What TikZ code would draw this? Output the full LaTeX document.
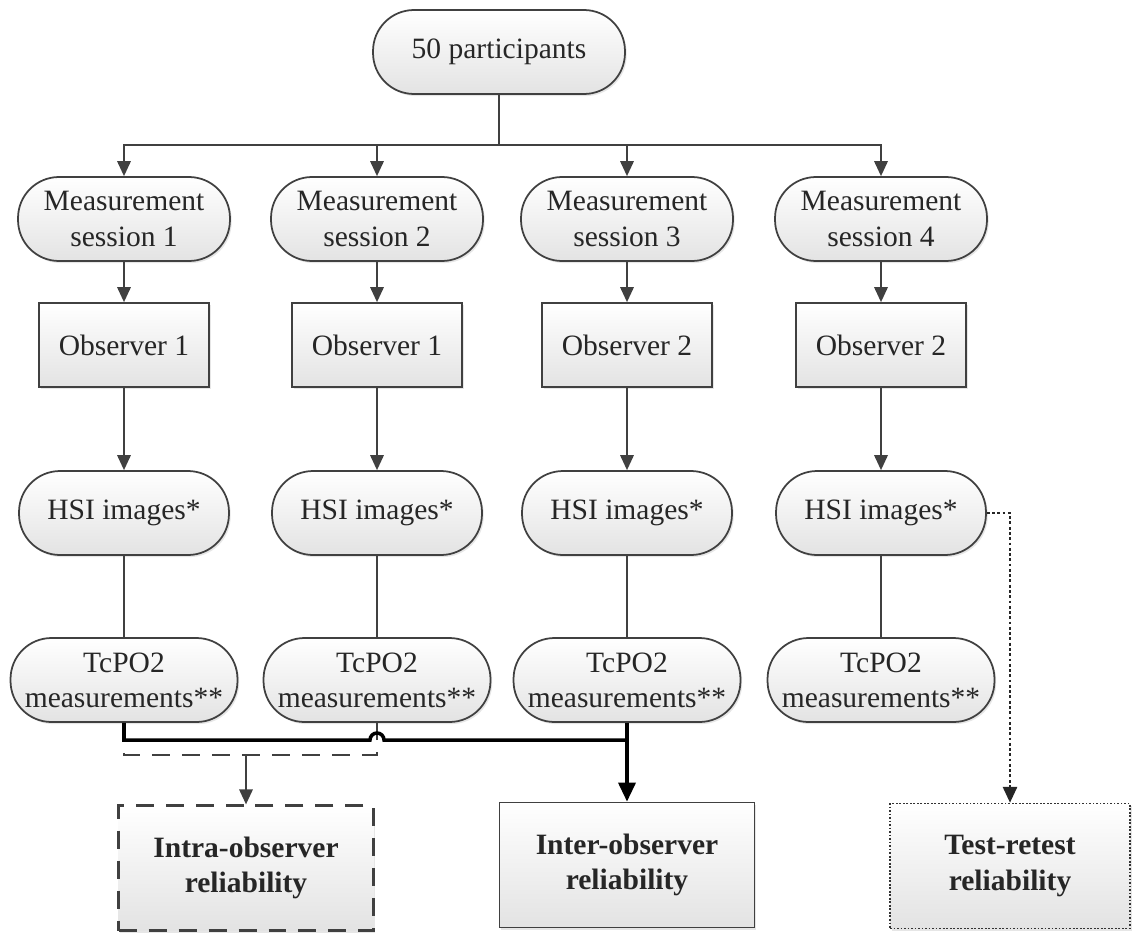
\documentclass[tikz,border=0pt]{standalone}
\usepackage{fontspec}
\setmainfont{Liberation Serif}
\usetikzlibrary{arrows.meta,shadows}

\tikzset{
	box/.style={draw=black!75, line width=1pt, top color=white, bottom color=black!11,
		align=center, font=\fontsize{16.8}{20}\selectfont, text=black!85,
		drop shadow={opacity=0.2, shadow xshift=1pt, shadow yshift=-1.2pt}},
	pill/.style={box, rounded corners=0.82cm, minimum height=1.68cm},
	resultbox/.style={box, minimum width=5.1cm, minimum height=2.5cm, font=\fontsize{16.8}{20}\selectfont\bfseries},
	link/.style={draw=black!75, line width=1pt},
	arr/.style={link, -{Triangle[length=0.3cm, width=0.27cm]}},
	boldlink/.style={draw=black, line width=2pt},
	dashlink/.style={draw=black!75, line width=1.3pt, dash pattern=on 0.36cm off 0.24cm},
	dotlink/.style={draw=black!85, line width=1.6pt, dash pattern=on 1.6pt off 1.4pt,
		-{Triangle[length=0.32cm, width=0.28cm]}}
}

\begin{document}
\begin{tikzpicture}[x=0.02cm, y=-0.02cm]
		%%%%% START %%%%%
		\useasboundingbox (0, 0) rectangle (1132, 933);
		
		\node[pill, minimum width=5.04cm] (top) at (499, 52) {50 participants};
		\coordinate (bus) at (499, 145);
		
		\node[pill, minimum width=4.24cm] (s1) at (124, 219) {Measurement\\session 1};
		\node[pill, minimum width=4.24cm] (s2) at (377, 219) {Measurement\\session 2};
		\node[pill, minimum width=4.24cm] (s3) at (627, 219) {Measurement\\session 3};
		\node[pill, minimum width=4.24cm] (s4) at (881, 219) {Measurement\\session 4};
		
		\node[box, minimum width=3.4cm, minimum height=1.68cm] (o1) at (124, 345) {Observer 1};
		\node[box, minimum width=3.4cm, minimum height=1.68cm] (o2) at (377, 345) {Observer 1};
		\node[box, minimum width=3.4cm, minimum height=1.68cm] (o3) at (627, 345) {Observer 2};
		\node[box, minimum width=3.4cm, minimum height=1.68cm] (o4) at (881, 345) {Observer 2};
		
		\node[pill, minimum width=4.2cm] (h1) at (124, 513) {HSI images*};
		\node[pill, minimum width=4.2cm] (h2) at (377, 513) {HSI images*};
		\node[pill, minimum width=4.2cm] (h3) at (627, 513) {HSI images*};
		\node[pill, minimum width=4.2cm] (h4) at (881, 513) {HSI images*};
		
		\node[pill, minimum width=4.54cm] (t1) at (124, 680) {TcPO2\\measurements**};
		\node[pill, minimum width=4.54cm] (t2) at (377, 680) {TcPO2\\measurements**};
		\node[pill, minimum width=4.54cm] (t3) at (627, 680) {TcPO2\\measurements**};
		\node[pill, minimum width=4.54cm] (t4) at (881, 680) {TcPO2\\measurements**};
		
		\node[resultbox, dashlink] (intra) at (246, 868) {Intra-observer\\reliability};
		\node[resultbox] (inter) at (627, 865) {Inter-observer\\reliability};
		\node[resultbox, draw=black!80, line width=0.8pt, dash pattern=on 1pt off 1pt, minimum width=4.8cm] (retest) at (1010, 866) {Test-retest\\reliability};
		
		% top to sessions
		\draw[link] (top.south) -- (bus);
		\draw[arr] (bus) -| (s1.north);
		\draw[arr] (bus) -| (s2.north);
		\draw[arr] (bus) -| (s3.north);
		\draw[arr] (bus) -| (s4.north);
		
		% columns
		\draw[arr] (s1) -- (o1);
		\draw[arr] (s2) -- (o2);
		\draw[arr] (s3) -- (o3);
		\draw[arr] (s4) -- (o4);
		\draw[arr] (o1) -- (h1);
		\draw[arr] (o2) -- (h2);
		\draw[arr] (o3) -- (h3);
		\draw[arr] (o4) -- (h4);
		\draw[link] (h1) -- (t1);
		\draw[link] (h2) -- (t2);
		\draw[link] (h3) -- (t3);
		\draw[link] (h4) -- (t4);
		
		% intra-observer
		\coordinate (intramid) at (246, 755);
		\draw[dashlink] (t1.south) |- (intramid) -| (t2.south);
		\draw[arr] (intramid) -- (intra.north);
		
		% inter-observer
		\coordinate (hopl) at (370, 740);
		\coordinate (interj) at (627, 740);
		\draw[boldlink] (t1.south) |- (hopl) arc[start angle=180, end angle=0, radius=0.14cm] -- (interj);
		\draw[boldlink, -{Triangle[length=0.38cm, width=0.34cm]}] (t3.south) -- (inter.north);
		
		% test-retest
		\draw[dotlink] (h4.east) -| (retest.north);
		
		%%%%% END %%%%%
	\end{tikzpicture}
\end{document}
